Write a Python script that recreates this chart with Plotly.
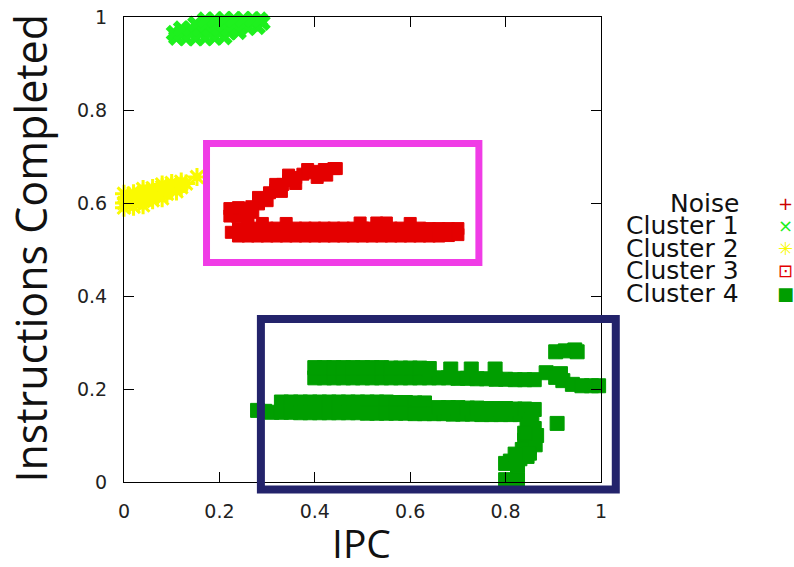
import plotly.graph_objects as go

# ---------------- data ----------------
series_names = ["Noise", "Cluster 1", "Cluster 2", "Cluster 3", "Cluster 4"]

noise_x = []
noise_y = []

c1_x = [0.11, 0.13, 0.15, 0.17, 0.19, 0.21,
        0.105, 0.12, 0.14, 0.16, 0.18, 0.20, 0.22, 0.24,
        0.12, 0.14, 0.16, 0.18, 0.20, 0.22, 0.24, 0.26, 0.28,
        0.15, 0.17, 0.19, 0.21, 0.23, 0.25, 0.27, 0.29,
        0.17, 0.19, 0.21, 0.23, 0.25, 0.27, 0.285,
        0.19, 0.21, 0.23, 0.25, 0.27]
c1_y = [0.956, 0.955, 0.955, 0.955, 0.956, 0.957,
        0.965, 0.965, 0.965, 0.965, 0.965, 0.966, 0.967, 0.968,
        0.975, 0.975, 0.975, 0.975, 0.975, 0.975, 0.976, 0.977, 0.979,
        0.985, 0.985, 0.985, 0.985, 0.985, 0.985, 0.986, 0.988,
        0.994, 0.994, 0.995, 0.995, 0.995, 0.995, 0.994,
        1.001, 1.002, 1.003, 1.003, 1.002]

c2_x = [-0.02, 0.0, 0.02, 0.04,
        -0.02, 0.0, 0.02, 0.04, 0.06, 0.08,
        -0.015, 0.01, 0.03, 0.05, 0.07, 0.09, 0.11,
        0.0, 0.02, 0.04, 0.06, 0.08, 0.10, 0.12,
        0.04, 0.06, 0.08, 0.10, 0.12, 0.13,
        0.08, 0.10, 0.12,
        0.153]
c2_y = [0.590, 0.590, 0.592, 0.595,
        0.600, 0.600, 0.602, 0.604, 0.606, 0.610,
        0.610, 0.611, 0.612, 0.614, 0.616, 0.620, 0.625,
        0.620, 0.621, 0.622, 0.624, 0.627, 0.630, 0.634,
        0.630, 0.632, 0.634, 0.637, 0.640, 0.642,
        0.640, 0.643, 0.646,
        0.656]

c3_x = [0.222, 0.237, 0.252, 0.222, 0.240, 0.255,
        0.268, 0.282, 0.282, 0.296, 0.270,
        0.305, 0.318, 0.318, 0.300,
        0.333, 0.345, 0.345, 0.330,
        0.360, 0.375, 0.390, 0.385, 0.360,
        0.400, 0.420, 0.440, 0.445, 0.405, 0.425,
        0.225,
        0.24, 0.26, 0.28, 0.30, 0.32, 0.34, 0.36, 0.38, 0.40, 0.42, 0.44, 0.46,
        0.48, 0.50, 0.52, 0.54, 0.56, 0.58, 0.60, 0.62, 0.64, 0.66, 0.68, 0.70,
        0.24, 0.26, 0.28, 0.30, 0.32, 0.34, 0.36, 0.38, 0.40, 0.42, 0.44, 0.46,
        0.48, 0.50, 0.52, 0.54, 0.56, 0.58, 0.60, 0.62, 0.64, 0.66, 0.68, 0.70,
        0.26, 0.29, 0.34, 0.495, 0.53, 0.55, 0.60]
c3_y = [0.572, 0.572, 0.575, 0.588, 0.590, 0.588,
        0.592, 0.598, 0.612, 0.610, 0.580,
        0.622, 0.628, 0.640, 0.605,
        0.640, 0.648, 0.660, 0.625,
        0.655, 0.662, 0.665, 0.672, 0.642,
        0.668, 0.672, 0.674, 0.674, 0.655, 0.660,
        0.537,
        0.546, 0.546, 0.546, 0.546, 0.546, 0.546, 0.546, 0.546, 0.546, 0.546, 0.546, 0.546,
        0.546, 0.546, 0.546, 0.546, 0.546, 0.546, 0.546, 0.546, 0.545, 0.545, 0.545, 0.545,
        0.529, 0.529, 0.529, 0.529, 0.529, 0.529, 0.529, 0.529, 0.529, 0.529, 0.529, 0.529,
        0.529, 0.529, 0.529, 0.529, 0.529, 0.529, 0.529, 0.529, 0.529, 0.529, 0.530, 0.532,
        0.556, 0.556, 0.556, 0.557, 0.557, 0.557, 0.556]

c4_x = [0.40, 0.42, 0.44, 0.46, 0.48, 0.50, 0.52, 0.54, 0.56, 0.58, 0.60, 0.62,
        0.64, 0.66, 0.68, 0.70, 0.72, 0.74, 0.76, 0.78, 0.80, 0.82, 0.84, 0.86,
        0.40, 0.42, 0.44, 0.46, 0.48, 0.50, 0.52, 0.54, 0.56, 0.58, 0.60, 0.62, 0.64,
        0.685, 0.728, 0.778,
        0.885, 0.905, 0.92, 0.94, 0.96, 0.98, 0.995, 0.915,
        0.905, 0.925, 0.945, 0.95,
        0.33, 0.35, 0.37, 0.39, 0.41, 0.43, 0.45, 0.47, 0.49, 0.51, 0.53, 0.55,
        0.57, 0.59, 0.61, 0.63,
        0.28, 0.295, 0.31, 0.33, 0.35, 0.37, 0.39, 0.41, 0.43, 0.45, 0.47, 0.49, 0.51,
        0.53, 0.55, 0.57, 0.59, 0.61, 0.63, 0.65, 0.67, 0.69, 0.71, 0.73, 0.75,
        0.77, 0.79, 0.81, 0.83, 0.85,
        0.66, 0.68, 0.70, 0.72, 0.74, 0.76, 0.78, 0.80, 0.82, 0.84, 0.86,
        0.855, 0.86, 0.845, 0.855, 0.84, 0.85, 0.835, 0.83, 0.81, 0.80, 0.845, 0.825,
        0.865, 0.862, 0.85, 0.84, 0.82,
        0.80, 0.825, 0.80, 0.828,
        0.908]
c4_y = [0.224, 0.224, 0.224, 0.224, 0.224, 0.224, 0.224, 0.224, 0.224, 0.224, 0.224, 0.224,
        0.224, 0.224, 0.224, 0.223, 0.223, 0.222, 0.222, 0.221, 0.221, 0.220, 0.220, 0.220,
        0.246, 0.246, 0.246, 0.246, 0.246, 0.246, 0.246, 0.246, 0.245, 0.245, 0.245, 0.245, 0.244,
        0.243, 0.243, 0.243,
        0.235, 0.225, 0.218, 0.210, 0.207, 0.207, 0.207, 0.233,
        0.280, 0.282, 0.284, 0.280,
        0.172, 0.172, 0.172, 0.172, 0.172, 0.172, 0.172, 0.172, 0.172, 0.172, 0.172, 0.172,
        0.171, 0.171, 0.170, 0.170,
        0.154, 0.152, 0.150, 0.150, 0.150, 0.149, 0.149, 0.149, 0.149, 0.149, 0.149, 0.149, 0.148,
        0.148, 0.148, 0.148, 0.148, 0.147, 0.147, 0.147, 0.147, 0.146, 0.146, 0.146, 0.145,
        0.145, 0.145, 0.145, 0.145, 0.145,
        0.160, 0.160, 0.160, 0.159, 0.159, 0.158, 0.158, 0.158, 0.157, 0.157, 0.156,
        0.135, 0.115, 0.120, 0.095, 0.090, 0.075, 0.070, 0.050, 0.045, 0.040, 0.055, 0.035,
        0.100, 0.080, 0.062, 0.105, 0.060,
        0.005, 0.005, -0.002, -0.002,
        0.126]

x_ticks = [0, 0.2, 0.4, 0.6, 0.8, 1]
x_tick_text = ["0", "0.2", "0.4", "0.6", "0.8", "1"]
y_ticks = [0, 0.2, 0.4, 0.6, 0.8, 1]
y_tick_text = ["0", "0.2", "0.4", "0.6", "0.8", "1"]

x_label = "IPC"
y_label = "Instructions Completed"

# ---------------- styles ----------------
col_noise = "#CC0000"
col_c1 = "#1EF01E"
col_c2 = "#FAFA00"
col_c3 = "#E40000"
col_c4 = "#009E00"

fig = go.Figure()
fig.add_trace(go.Scatter(x=noise_x, y=noise_y, mode="markers", name=series_names[0],
                         marker=dict(symbol="cross-thin", size=12, color=col_noise,
                                     line=dict(color=col_noise, width=2)),
                         cliponaxis=False))
fig.add_trace(go.Scatter(x=c1_x, y=c1_y, mode="markers", name=series_names[1],
                         marker=dict(symbol="x", size=15, color=col_c1, line=dict(width=0)),
                         cliponaxis=False))
fig.add_trace(go.Scatter(x=c2_x, y=c2_y, mode="markers", name=series_names[2],
                         marker=dict(symbol="asterisk-open", size=15, color=col_c2,
                                     line=dict(color=col_c2, width=3)),
                         cliponaxis=False))
fig.add_trace(go.Scatter(x=c3_x, y=c3_y, mode="markers", name=series_names[3],
                         marker=dict(symbol="square", size=12, color=col_c3,
                                     line=dict(color=col_c3, width=1)),
                         cliponaxis=False))
fig.add_trace(go.Scatter(x=c4_x, y=c4_y, mode="markers", name=series_names[4],
                         marker=dict(symbol="square", size=14, color=col_c4,
                                     line=dict(color=col_c4, width=1)),
                         cliponaxis=False))

# highlight rectangles
fig.add_shape(type="rect", xref="paper", yref="paper", x0=0.173, x1=0.744, y0=0.472, y1=0.728,
              line=dict(color="#F03CE6", width=7), layer="above")
fig.add_shape(type="rect", xref="paper", yref="paper", x0=0.287, x1=1.031, y0=-0.016, y1=0.3505,
              line=dict(color="#23236B", width=8), layer="above")

# custom legend: right-aligned text, symbol on the right
legend_y = [0.600, 0.5516, 0.503, 0.455, 0.406]
legend_sym = ["+", "\u00d7", "\u2733", "\u22a1", "\u25a0"]
legend_col = [col_noise, col_c1, col_c2, col_c3, col_c4]
for name, ly, sym, sc in zip(series_names, legend_y, legend_sym, legend_col):
    fig.add_annotation(x=1.2935, y=ly, xref="paper", yref="paper", text=name, showarrow=False,
                       xanchor="right", yanchor="middle",
                       font=dict(family="DejaVu Sans", size=25, color="#111111"))
    fig.add_annotation(x=1.386, y=ly, xref="paper", yref="paper", text=sym, showarrow=False,
                       xanchor="center", yanchor="middle",
                       font=dict(family="DejaVu Sans", size=18, color=sc))

# axis titles
fig.add_annotation(x=-0.196, y=0.503, xref="paper", yref="paper", text=y_label, showarrow=False,
                   textangle=-90, xanchor="center", yanchor="middle",
                   font=dict(family="Open Sans", size=43, color="#111111"))
fig.add_annotation(x=0.497, y=-0.13, xref="paper", yref="paper", text=x_label, showarrow=False,
                   xanchor="center", yanchor="middle",
                   font=dict(family="Open Sans", size=39, color="#111111"))

axis_common = dict(showgrid=False, zeroline=False, showline=True, linecolor="black", linewidth=1,
                   mirror="ticks", ticks="inside", ticklen=10, tickwidth=1, tickcolor="black",
                   automargin=False,
                   tickfont=dict(family="DejaVu Sans", size=19, color="#222222"))
fig.update_xaxes(range=[0, 1], tickvals=x_ticks, ticktext=x_tick_text, ticklabelstandoff=12,
                 **axis_common)
fig.update_yaxes(range=[0, 1], tickvals=y_ticks, ticktext=y_tick_text, ticklabelstandoff=12,
                 **axis_common)

fig.update_layout(width=794, height=567, showlegend=False,
                  margin=dict(l=124, r=193, t=17, b=85, autoexpand=False),
                  plot_bgcolor="white", paper_bgcolor="white")

fig.write_html("out.html", config={"displayModeBar": False},
               post_script="document.body.style.margin='0';")
